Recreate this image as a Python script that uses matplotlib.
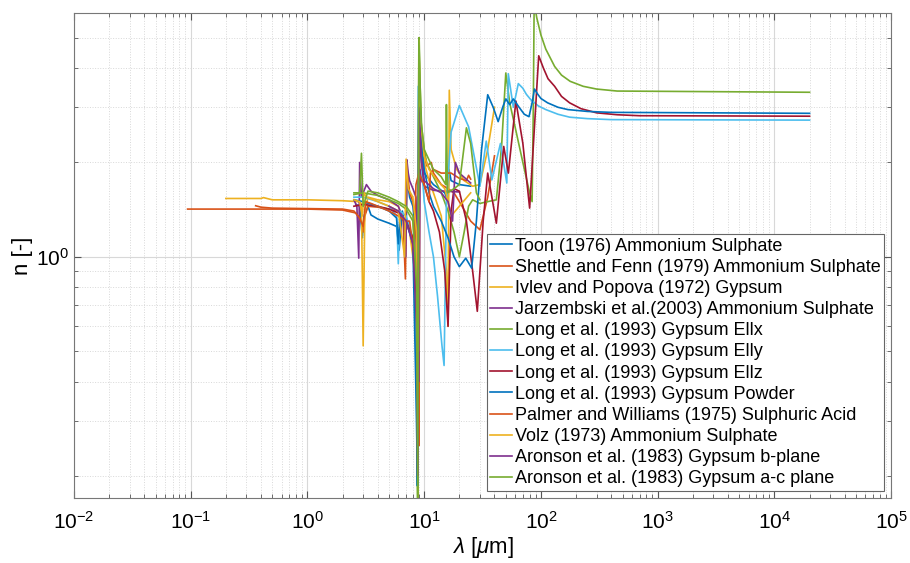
import matplotlib
matplotlib.use("Agg")
import matplotlib.pyplot as plt
from matplotlib.ticker import LogLocator, NullFormatter, FixedLocator

plt.rcParams['font.family'] = ['Liberation Sans', 'DejaVu Sans']
plt.rcParams['mathtext.fontset'] = 'custom'
plt.rcParams['mathtext.rm'] = 'Liberation Sans'
plt.rcParams['mathtext.it'] = 'Liberation Sans:italic'

toon_wl = [2.6, 2.8, 2.95, 3.05, 3.3, 3.5, 4, 5, 5.8, 6.1, 6.5, 7.0, 7.1, 7.5, 8, 8.6, 8.8, 9.0, 9.3, 10, 12, 15, 16, 16.3, 17, 20, 25]
toon_n = [1.47, 1.45, 1.15, 1.35, 1.45, 1.36, 1.32, 1.28, 1.25, 1.05, 1.40, 1.20, 1.80, 1.55, 1.45, 1.10, 0.50, 2.80, 2.20, 1.85, 1.70, 1.60, 1.50, 1.90, 1.75, 1.70, 1.68]

shettle_wl = [0.094, 0.5, 1, 2, 2.6, 2.9, 3.0, 3.1, 3.3, 4, 5, 6, 6.6, 6.9, 7.1, 7.5, 8, 8.5, 8.8, 9.0, 9.2, 9.6, 10.5, 11.5, 12, 14, 16, 18, 20, 25, 30, 35, 40]
shettle_n = [1.42, 1.42, 1.42, 1.41, 1.38, 1.30, 1.20, 1.35, 1.45, 1.44, 1.42, 1.40, 1.30, 0.85, 1.95, 1.60, 1.50, 1.30, 0.60, 0.25, 3.20, 2.30, 1.95, 2.00, 1.85, 1.70, 1.65, 1.60, 1.50, 1.30, 1.22, 1.55, 2.10]

ivlev_wl = [0.2, 0.4, 0.42, 0.5, 1, 2, 2.7, 2.9, 3.0, 3.1, 3.3, 4, 5, 6, 6.5, 7.5, 8.3, 8.7, 8.85, 9.0, 9.15, 9.3, 9.6, 10, 11, 12, 14, 15.5, 16.0, 16.4, 17, 19, 22, 26, 30, 35, 40]
ivlev_n = [1.535, 1.535, 1.545, 1.52, 1.52, 1.51, 1.50, 1.48, 0.52, 1.40, 1.55, 1.52, 1.50, 1.45, 1.35, 1.20, 0.90, 0.30, 0.15, 5.00, 3.50, 2.60, 2.20, 2.00, 1.75, 1.60, 1.35, 0.90, 0.60, 3.40, 2.20, 1.90, 1.75, 1.68, 1.70, 2.20, 3.00]

jarz_wl = [2.5, 2.65, 2.75, 2.8, 2.9, 3.2, 3.5, 4, 5, 6, 6.7, 6.95, 7.1, 7.3, 7.5, 8, 8.5, 8.8, 9.0, 9.2, 9.5, 10, 12, 15, 20]
jarz_n = [1.52, 1.45, 0.99, 2.00, 1.55, 1.70, 1.62, 1.57, 1.52, 1.45, 1.30, 1.00, 2.04, 1.85, 1.75, 1.65, 1.55, 1.00, 0.40, 1.90, 1.75, 1.68, 1.63, 1.62, 1.61]

ellx_wl = [2.5, 3, 4, 5, 6, 7, 8, 8.5, 8.8, 9.05, 9.2, 9.5, 10, 10.5, 12, 14, 16, 18, 20, 22, 24, 26, 30, 35, 41.5, 46, 50, 54, 60, 70, 80, 84, 86, 87.5, 92, 100, 110, 131, 150, 178, 230, 300, 450, 20000]
ellx_n = [1.58, 1.60, 1.57, 1.52, 1.48, 1.42, 1.30, 0.90, 0.15, 5.00, 3.60, 2.60, 2.20, 2.00, 1.80, 1.60, 1.40, 1.20, 1.00, 1.20, 1.45, 1.52, 1.48, 1.50, 1.52, 2.25, 3.86, 3.10, 2.60, 2.00, 1.60, 1.50, 3.00, 6.50, 5.80, 5.10, 4.60, 4.05, 3.80, 3.63, 3.50, 3.43, 3.38, 3.35]

elly_wl = [2.5, 3, 4, 5, 5.8, 6.0, 6.2, 7, 8, 8.5, 8.7, 8.9, 9.3, 10, 11, 12, 13, 14.2, 14.8, 15.5, 17, 20, 24, 30, 34, 38, 45, 51, 52.5, 58, 64, 70, 75, 82, 95, 110, 140, 176, 250, 400, 20000]
elly_n = [1.55, 1.55, 1.50, 1.45, 1.35, 0.95, 1.40, 1.35, 1.15, 0.60, 0.186, 3.50, 2.20, 1.50, 1.20, 1.00, 0.75, 0.52, 0.45, 1.50, 2.50, 3.04, 2.60, 1.68, 2.34, 1.76, 2.30, 1.72, 3.84, 3.00, 3.57, 3.45, 3.30, 3.17, 3.03, 2.95, 2.85, 2.79, 2.76, 2.74, 2.73]

ellz_wl = [2.5, 3, 4, 5, 6, 7, 8, 8.6, 8.8, 9.0, 9.4, 10, 11, 12, 13.5, 15, 16, 17, 18, 20, 23, 26, 28.5, 32, 35, 41.5, 48, 52.6, 61, 70, 80, 88, 95.7, 105, 115, 131, 150, 176, 220, 300, 450, 700, 20000]
ellz_n = [1.45, 1.47, 1.45, 1.42, 1.38, 1.30, 1.15, 0.70, 0.25, 3.50, 2.10, 1.70, 1.50, 1.40, 1.20, 0.90, 0.60, 1.40, 1.65, 1.62, 1.30, 0.90, 0.67, 1.30, 1.85, 1.28, 2.25, 1.85, 3.14, 2.30, 1.43, 2.60, 4.38, 4.00, 3.70, 3.50, 3.25, 3.10, 2.97, 2.88, 2.84, 2.82, 2.81]

powder_wl = [2.5, 3, 4, 5, 5.8, 6.0, 6.2, 7, 8, 8.6, 8.75, 9.0, 9.15, 9.4, 9.7, 10, 11, 12, 14, 16, 18, 20, 22.7, 25.5, 28, 31, 35, 39, 43, 47, 50, 54, 58, 65, 72, 79, 84, 88, 94, 100, 114, 140, 170, 250, 400, 20000]
powder_n = [1.52, 1.50, 1.45, 1.40, 1.33, 1.10, 1.35, 1.30, 1.10, 0.30, 0.186, 4.36, 3.20, 2.50, 2.10, 1.90, 1.60, 1.45, 1.30, 1.15, 1.00, 0.93, 0.99, 0.92, 1.30, 2.20, 3.29, 3.00, 2.70, 3.00, 3.19, 3.06, 3.19, 3.00, 2.85, 2.80, 3.10, 3.43, 3.30, 3.20, 3.10, 3.00, 2.95, 2.91, 2.89, 2.87]

palmer_wl = [0.36, 0.40, 0.5, 1, 2, 2.5, 2.8, 3.0, 3.15, 3.5, 4, 5, 6, 7, 7.5, 8.2, 8.5, 9, 10, 11, 11.3, 12, 14, 17, 20, 23, 24, 25]
palmer_n = [1.455, 1.44, 1.43, 1.425, 1.42, 1.40, 1.33, 1.25, 1.50, 1.48, 1.45, 1.40, 1.35, 1.30, 1.30, 1.00, 1.70, 1.85, 1.70, 1.50, 1.85, 1.90, 1.85, 1.85, 1.78, 1.75, 1.82, 1.77]

volz_wl = [2.5, 2.8, 2.95, 3.05, 3.2, 4, 5, 6, 6.8, 7.0, 7.3, 8, 8.6, 8.9, 9.0, 9.2, 10, 11, 13, 15, 16, 17, 20, 25]
volz_n = [1.52, 1.50, 1.35, 1.60, 1.55, 1.50, 1.45, 1.40, 1.00, 2.05, 1.65, 1.55, 1.20, 0.50, 4.90, 2.80, 2.10, 1.90, 1.75, 1.65, 1.50, 1.35, 1.45, 1.60]

aron_b_wl = [5.0, 6.0, 7.0, 8.0, 8.6, 8.8, 9.0, 9.5, 10, 12, 14, 16, 17.5, 18.5, 20, 25]
aron_b_n = [1.45, 1.40, 1.30, 1.10, 0.60, 0.20, 3.00, 2.00, 1.75, 1.65, 1.60, 1.50, 1.30, 2.00, 1.85, 1.72]

aron_ac_wl = [2.5, 2.8, 2.9, 3.0, 3.3, 4, 5, 6, 7, 8, 8.6, 8.8, 9.0, 9.4, 10, 12, 14, 15.3, 15.5, 15.8, 18, 20, 23, 25, 28, 30]
aron_ac_n = [1.60, 1.60, 2.14, 1.45, 1.62, 1.60, 1.55, 1.50, 1.45, 1.35, 0.80, 0.15, 5.00, 2.70, 2.20, 1.90, 1.80, 1.70, 3.06, 1.60, 1.65, 1.70, 2.58, 2.30, 1.60, 1.52]

labels = ['Toon (1976) Ammonium Sulphate',
          'Shettle and Fenn (1979) Ammonium Sulphate',
          'Ivlev and Popova (1972) Gypsum',
          'Jarzembski et al.(2003) Ammonium Sulphate',
          'Long et al. (1993) Gypsum Ellx',
          'Long et al. (1993) Gypsum Elly',
          'Long et al. (1993) Gypsum Ellz',
          'Long et al. (1993) Gypsum Powder',
          'Palmer and Williams (1975) Sulphuric Acid',
          'Volz (1973) Ammonium Sulphate',
          'Aronson et al. (1983) Gypsum b-plane',
          'Aronson et al. (1983) Gypsum a-c plane']

x_ticks = [1e-2, 1e-1, 1e0, 1e1, 1e2, 1e3, 1e4, 1e5]

series = [(toon_wl, toon_n), (shettle_wl, shettle_n), (ivlev_wl, ivlev_n),
          (jarz_wl, jarz_n), (ellx_wl, ellx_n), (elly_wl, elly_n),
          (ellz_wl, ellz_n), (powder_wl, powder_n), (palmer_wl, palmer_n),
          (volz_wl, volz_n), (aron_b_wl, aron_b_n), (aron_ac_wl, aron_ac_n)]

# matlab default colour order
colors = ['#0072BD', '#D95319', '#EDB120', '#7E2F8E', '#77AC30', '#4DBEEE', '#A2142F']

fig = plt.figure(figsize=(9.1, 5.63), dpi=100)
ax = fig.add_axes([0.0813, 0.1155, 0.898, 0.8615])

for i, (wl, n) in enumerate(series):
    ax.plot(wl, n, c=colors[i % 7], lw=1.2, label=labels[i])

ax.set_xscale('log')
ax.set_yscale('log')
ax.set_xlim(1e-2, 1e5)
ax.set_ylim(0.17, 6.0)

ax.xaxis.set_major_locator(FixedLocator(x_ticks))
ax.xaxis.set_minor_locator(LogLocator(base=10, subs=range(2, 10), numticks=20))
ax.xaxis.set_minor_formatter(NullFormatter())
ax.yaxis.set_minor_formatter(NullFormatter())

ax.grid(which='major', color='#d8d8d8', lw=0.8, ls='-')
ax.grid(which='minor', color='#d8d8d8', lw=0.7, ls=':')
ax.tick_params(which='both', direction='in', top=True, right=True, colors='#555555',
               labelcolor='black', labelsize=15)
ax.tick_params(which='major', length=5)
ax.tick_params(which='minor', length=3)
ax.tick_params(axis='x', pad=9)
for key, spine in ax.spines.items():
    spine.set_color('#777777')

ax.set_xlabel(r'$\lambda$ [$\mu$m]', fontsize=16, labelpad=2)
ax.set_ylabel('n [-]', fontsize=16, labelpad=2)

leg = ax.legend(loc='lower right', bbox_to_anchor=(0.9914, 0.0144), borderaxespad=0,
                fontsize=13, frameon=True, fancybox=False, framealpha=1,
                edgecolor='#666666', handlelength=1.2, handletextpad=0.15,
                labelspacing=0.23, borderpad=0.2)
leg.get_frame().set_linewidth(0.8)

fig.savefig('out.png', dpi=100)
